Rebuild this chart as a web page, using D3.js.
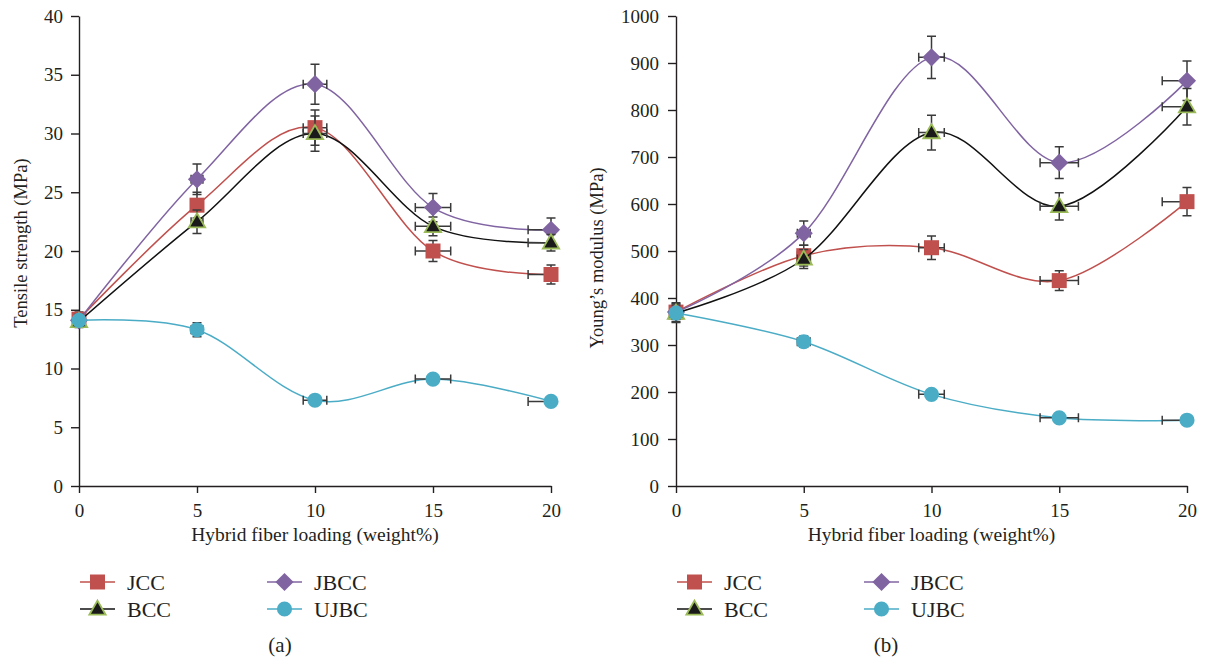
<!DOCTYPE html>
<html>
<head>
<meta charset="utf-8">
<script src="https://cdn.jsdelivr.net/npm/d3@7"></script>
<style>
    body { margin: 0; background: #fff; }
    svg text { font-family: "Liberation Serif", "DejaVu Serif", serif; fill: #231f20; }
</style>
</head>
<body>
<svg id="graph" width="1207" height="663"></svg>
<script>
// ---- data ----
const loading = [0, 5, 10, 15, 20];
const loadingErrMinus = [0.1, 0.25, 0.5, 0.75, 0.97];
const loadingErrPlus = [0.1, 0.25, 0.5, 0.75, 0];

const seriesNames = ["JCC", "BCC", "JBCC", "UJBC"];

// (a) tensile strength, MPa
const tensileJCC = [14.2, 23.9, 30.5, 20.0, 18.0];
const tensileBCC = [14.0, 22.5, 30.0, 22.1, 20.7];
const tensileJBCC = [14.1, 26.1, 34.2, 23.7, 21.8];
const tensileUJBC = [14.1, 13.3, 7.3, 9.1, 7.2];
const tensileErrJCC = [0.6, 1.1, 1.5, 0.9, 0.8];
const tensileErrBCC = [0.5, 1.0, 1.5, 0.8, 0.7];
const tensileErrJBCC = [0.4, 1.3, 1.7, 1.2, 1.0];
const tensileErrUJBC = [0.5, 0.6, 0.3, 0.3, 0.2];
const tensileTicks = [0, 5, 10, 15, 20, 25, 30, 35, 40];

// (b) Young's modulus, MPa
const modulusJCC = [370, 490, 507, 437, 605];
const modulusBCC = [368, 483, 752, 595, 807];
const modulusJBCC = [370, 538, 912, 688, 862];
const modulusUJBC = [368, 307, 195, 145, 140];
const modulusErrJCC = [20, 22, 25, 21, 30];
const modulusErrBCC = [20, 20, 37, 29, 39];
const modulusErrJBCC = [15, 26, 45, 34, 42];
const modulusErrUJBC = [12, 12, 8, 8, 6];
const modulusTicks = [0, 100, 200, 300, 400, 500, 600, 700, 800, 900, 1000];

const xTicks = [0, 5, 10, 15, 20];

// ---- styles ----
const styles = {
    JCC: { line: "#c0504d", fill: "#c0504d", stroke: "none", shape: "square" },
    BCC: { line: "#111111", fill: "#1a1a1a", stroke: "#9bbb59", shape: "triangle" },
    JBCC: { line: "#8064a2", fill: "#8064a2", stroke: "none", shape: "diamond" },
    UJBC: { line: "#4bacc6", fill: "#4bacc6", stroke: "none", shape: "circle" },
};
// draw order (later on top)
const drawOrder = ["JCC", "JBCC", "BCC", "UJBC"];

const svg = d3.select("#graph");

function markerPath(shape) {
    if (shape === "square") return d3.symbol(d3.symbolSquare, 225)();
    if (shape === "diamond") return d3.symbol(d3.symbolSquare, 165)();
    if (shape === "triangle") return d3.symbol(d3.symbolTriangle, 115)();
    return d3.symbol(d3.symbolCircle, 180)();
}

function drawMarker(g, name, cx, cy) {
    const st = styles[name];
    const rot = st.shape === "diamond" ? " rotate(45)" : "";
    const dy = st.shape === "triangle" ? 1 : 0;
    g.append("path")
        .attr("d", markerPath(st.shape))
        .attr("transform", `translate(${cx},${cy + dy})${rot}`)
        .attr("fill", st.fill)
        .attr("stroke", st.stroke)
        .attr("stroke-width", st.stroke === "none" ? 0 : 1.8);
}

function drawPanel(p) {
    const x = d3.scaleLinear().domain([0, 20]).range([p.left, p.right]);
    const y = d3.scaleLinear().domain([0, p.ymax]).range([486, 16]);

    // axes
    const gy = svg.append("g")
        .attr("transform", `translate(${p.left},0)`)
        .call(d3.axisLeft(y).tickValues(p.yTicks).tickFormat(d3.format("d"))
            .tickSize(8).tickSizeOuter(0).tickPadding(p.yPad));
    const gx = svg.append("g")
        .attr("transform", `translate(0,${y(0)})`)
        .call(d3.axisBottom(x).tickValues(xTicks).tickFormat(d3.format("d"))
            .tickSize(7).tickSizeOuter(0).tickPadding(11));
    [gy, gx].forEach((g) => {
        g.attr("font-family", null);
        g.select(".domain").attr("stroke", "#231f20").attr("stroke-width", 1.4);
        g.selectAll(".tick line").attr("stroke", "#231f20").attr("stroke-width", 1.4);
        g.selectAll(".tick text").attr("font-size", 19).attr("fill", "#231f20");
    });

    // axis titles
    svg.append("text")
        .attr("transform", `translate(${p.yTitleX},${p.yTitleY}) rotate(-90)`)
        .attr("text-anchor", "middle")
        .attr("font-size", 18.5)
        .text(p.yTitle);
    svg.append("text")
        .attr("x", (p.left + p.right) / 2)
        .attr("y", 541)
        .attr("text-anchor", "middle")
        .attr("font-size", 19.5)
        .text("Hybrid fiber loading (weight%)");

    const line = d3.line()
        .x((d) => x(d[0]))
        .y((d) => y(d[1]))
        .curve(d3.curveCatmullRom.alpha(0));

    drawOrder.forEach((name) => {
        const vals = p.values[name];
        const errs = p.errors[name];
        const st = styles[name];
        const pts = loading.map((l, i) => [l, vals[i]]);
        const g = svg.append("g");

        g.append("path")
            .attr("d", line(pts))
            .attr("fill", "none")
            .attr("stroke", st.line)
            .attr("stroke-width", 1.5);

        // error bars
        const eb = g.append("g").attr("stroke", "#3a3a3a").attr("stroke-width", 1.5).attr("fill", "none");
        loading.forEach((l, i) => {
            const cx = x(l);
            const cy = y(vals[i]);
            const yt = y(vals[i] + errs[i]);
            const yb = y(vals[i] - errs[i]);
            eb.append("path").attr("d", `M${cx},${yt}V${yb}M${cx - 4.5},${yt}H${cx + 4.5}M${cx - 4.5},${yb}H${cx + 4.5}`);
            const xl = x(l - loadingErrMinus[i]);
            const xr = x(l + loadingErrPlus[i]);
            let d = `M${xl},${cy}H${xr}M${xl},${cy - 4.5}V${cy + 4.5}`;
            if (loadingErrPlus[i] > 0) d += `M${xr},${cy - 4.5}V${cy + 4.5}`;
            eb.append("path").attr("d", d);
        });

        pts.forEach((d) => drawMarker(g, name, x(d[0]), y(d[1])));
    });

    // legend
    const legendPos = {
        JCC: [0, 582],
        BCC: [0, 609],
        JBCC: [187, 582],
        UJBC: [187, 609],
    };
    seriesNames.forEach((name) => {
        const [dx, ly] = legendPos[name];
        const lx = p.left + 1 + dx;
        const st = styles[name];
        svg.append("line")
            .attr("x1", lx).attr("x2", lx + 35)
            .attr("y1", ly).attr("y2", ly)
            .attr("stroke", st.line)
            .attr("stroke-width", 1.5);
        drawMarker(svg, name, lx + 17.5, ly);
        svg.append("text")
            .attr("x", lx + 47)
            .attr("y", ly)
            .attr("dy", "0.35em")
            .attr("font-size", 22)
            .text(name);
    });

    svg.append("text")
        .attr("x", p.labelX)
        .attr("y", 645)
        .attr("dy", "0.35em")
        .attr("text-anchor", "middle")
        .attr("font-size", 21)
        .text(p.label);
}

drawPanel({
    left: 79,
    right: 551,
    ymax: 40,
    yTicks: tensileTicks,
    yPad: 8,
    yTitle: "Tensile strength (MPa)",
    yTitleX: 27,
    yTitleY: 243,
    label: "(a)",
    labelX: 280,
    values: { JCC: tensileJCC, BCC: tensileBCC, JBCC: tensileJBCC, UJBC: tensileUJBC },
    errors: { JCC: tensileErrJCC, BCC: tensileErrBCC, JBCC: tensileErrJBCC, UJBC: tensileErrUJBC },
});

drawPanel({
    left: 676,
    right: 1187,
    ymax: 1000,
    yTicks: modulusTicks,
    yPad: 9,
    yTitle: "Young\u2019s modulus (MPa)",
    yTitleX: 603,
    yTitleY: 258,
    label: "(b)",
    labelX: 886,
    values: { JCC: modulusJCC, BCC: modulusBCC, JBCC: modulusJBCC, UJBC: modulusUJBC },
    errors: { JCC: modulusErrJCC, BCC: modulusErrBCC, JBCC: modulusErrJBCC, UJBC: modulusErrUJBC },
});
</script>
</body>
</html>
